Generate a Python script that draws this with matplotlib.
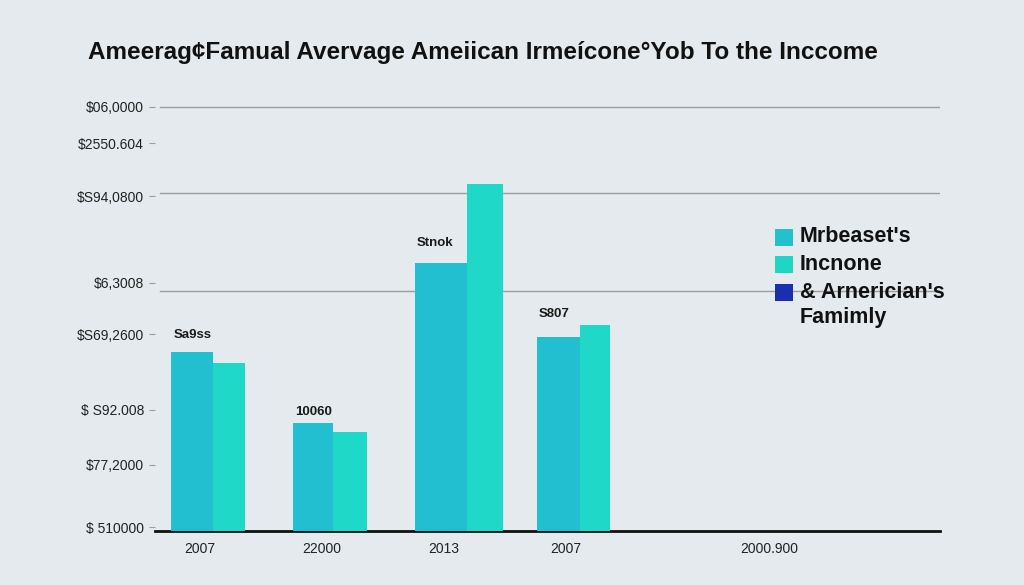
import matplotlib.pyplot as plt
from matplotlib.patches import Rectangle

# ---- data ----
groups = ["2007", "22000", "2013", "2007"]
mrbeast = [179, 108, 268, 194]      # first bar of each group
income = [168, 99, 347, 206]        # second bar of each group
bar_notes = ["Sa9ss", "10060", "Stnok", "S807"]

xtick_pos = [0, 1, 2, 3, 4.67]
xtick_labels = ["2007", "22000", "2013", "2007", "2000.900"]

ytick_pos = [424, 388, 335, 248, 197, 121, 66, 4]
ytick_labels = ["$06,0000", "$2550.604", "$S94,0800", "$6,3008",
                "$S69,2600", "$ S92.008", "$77,2000", "$ 510000"]
grid_vals = [424, 338, 240]

legend_labels = ["Mrbeaset's", "Incnone", "& Arnerician's", "Famimly"]

bg = "#e4eaed"
c_a = "#21bfd0"
c_b = "#1fd8c8"
c_leg = ["#22c2cc", "#1fd6c6", "#1a2fae"]

# bar widths differ a bit from group to group in the picture
w_a = [0.344, 0.328, 0.426, 0.352]
w_b = [0.262, 0.279, 0.295, 0.246]

plt.rcParams['font.family'] = ['Liberation Sans', 'DejaVu Sans']

fig = plt.figure(figsize=(10.24, 5.85), dpi=100, facecolor=bg)
ax = fig.add_axes([155 / 1024, 54 / 585, 785 / 1024, 431 / 585], facecolor=bg)

for i, (a, b) in enumerate(zip(mrbeast, income)):
    ax.bar(i - 0.24, a, width=w_a[i], align="edge", color=c_a, zorder=3)
    ax.bar(i - 0.24 + w_a[i], b, width=w_b[i], align="edge", color=c_b, zorder=3)

# little labels sitting above the bars
note_y = [193, 116, 285, 214]
for i, (t, y) in enumerate(zip(bar_notes, note_y)):
    ax.text(i - 0.22, y, t, fontsize=9.5, fontweight="bold", color="#1a1a1a")

for g in grid_vals:
    ax.axhline(g, xmin=0.006, color="#9a9ea0", lw=1, zorder=1)

ax.set_xlim(-0.369, 6.066)
ax.set_ylim(0, 431)
ax.set_xticks(xtick_pos)
ax.set_xticklabels(xtick_labels, fontsize=10, color="#222222")
ax.set_yticks(ytick_pos)
ax.set_yticklabels(ytick_labels, fontsize=10, color="#222222")
ax.tick_params(axis="x", length=0, pad=8)
ax.tick_params(axis="y", length=4, color="#9a9ea0", pad=4)

for s in ["top", "right", "left"]:
    ax.spines[s].set_visible(False)
ax.spines["bottom"].set_color("#111111")
ax.spines["bottom"].set_linewidth(2)

# legend drawn by hand: the last square lines up with the first line of its label
rows_y = [237, 265, 292, 318]
for k, lab in enumerate(legend_labels):
    yc = 1 - rows_y[k] / 585
    if k < len(c_leg):
        fig.patches.append(Rectangle((775 / 1024, yc - 8.5 / 585), 18 / 1024, 17 / 585,
                                     transform=fig.transFigure, facecolor=c_leg[k],
                                     edgecolor="none"))
    fig.text(800 / 1024, yc, lab, fontsize=15.5, fontweight="bold",
             va="center", ha="left", color="#111111")

fig.text(88 / 1024, 1 - 52 / 585,
         "Ameerag¢Famual Avervage Ameiican Irmeícone°Yob To the Inccome",
         fontsize=17.5, fontweight="bold", va="center", ha="left", color="#111111")

fig.savefig("out.png", dpi=100, facecolor=bg)
